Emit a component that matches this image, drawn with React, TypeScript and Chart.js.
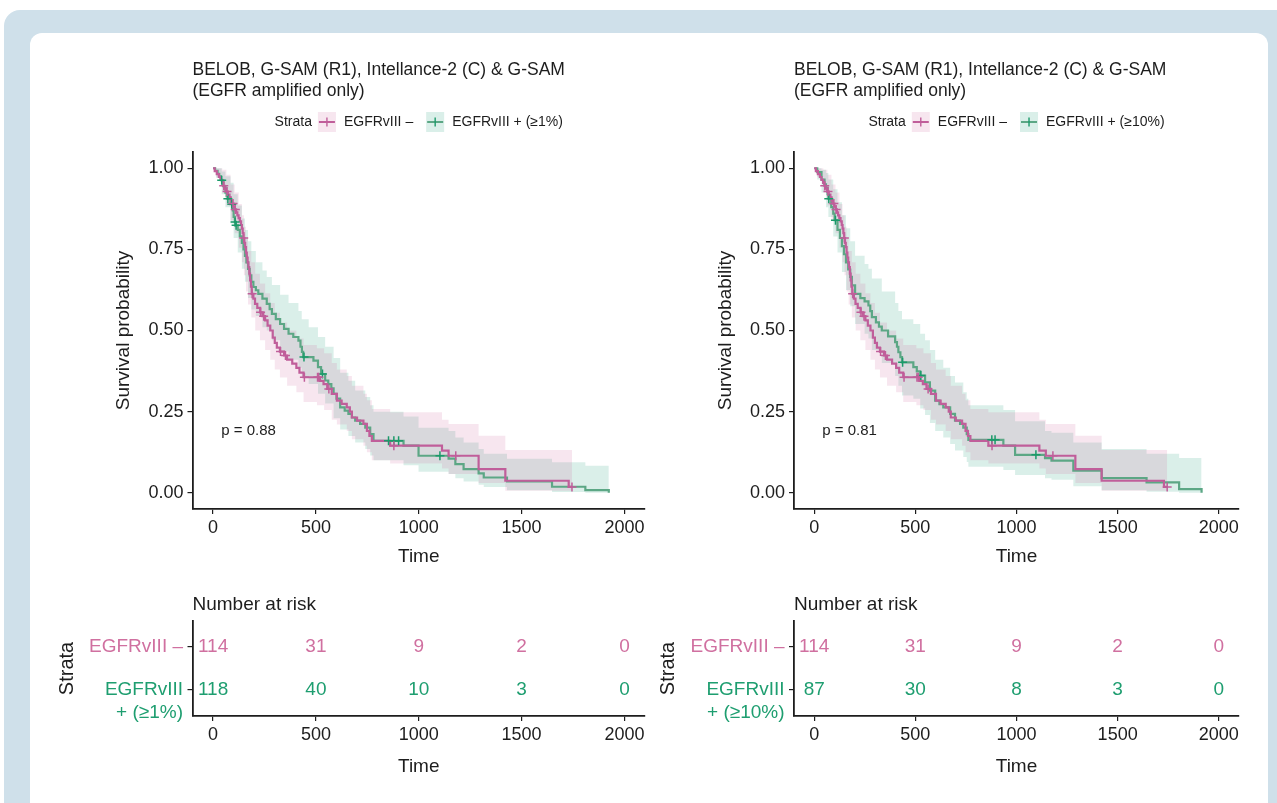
import React, { useEffect, useRef } from 'react';
import { Chart, registerables } from 'chart.js';

Chart.register(...registerables);

const W = 1277;
const H = 803;
const FONT = '"Liberation Sans", Arial, Helvetica, sans-serif';

// ---------- data ----------
const timeTicks = [0, 500, 1000, 1500, 2000];
const survTicks = [0, 0.25, 0.5, 0.75, 1];

const titleLine1 = 'BELOB, G-SAM (R1), Intellance-2 (C) & G-SAM';
const titleLine2 = '(EGFR amplified only)';
const negLabel = 'EGFRvIII –';
const posLabels = ['EGFRvIII + (≥1%)', 'EGFRvIII + (≥10%)'];
const posRowLabels = [['EGFRvIII', '+ (≥1%)'], ['EGFRvIII', '+ (≥10%)']];
const pValues = ['p = 0.88', 'p = 0.81'];

// EGFRvIII – (same group in both panels)
const negTime = [0,8,18,28,36,44,50,56,64,72,80,86,92,100,106,112,118,124,130,136,140,144,148,152,156,160,164,168,172,176,180,184,188,196,204,215,229,240,253,265,278,290,300,310,325,345,360,385,405,420,440,520,537,555,577,602,625,650,665,675,700,731,748,760,772,861,1113,1145,1291,1421,1729,1745];
const negSurv = [1,0.991,0.982,0.973,0.964,0.955,0.946,0.937,0.928,0.919,0.91,0.9,0.891,0.882,0.873,0.864,0.855,0.846,0.836,0.825,0.814,0.8,0.785,0.77,0.757,0.74,0.725,0.71,0.695,0.675,0.654,0.635,0.613,0.598,0.582,0.57,0.556,0.544,0.531,0.515,0.5,0.478,0.462,0.447,0.435,0.423,0.41,0.398,0.385,0.37,0.356,0.345,0.335,0.32,0.305,0.284,0.274,0.263,0.25,0.232,0.222,0.212,0.191,0.175,0.16,0.145,0.13,0.114,0.073,0.037,0.018,0.018];
const negCensor = [52,68,97,108,149,190,231,246,328,352,444,508,514,563,879,1180,1745];
const negBandTime = [0,15,45,65,85,105,125,140,150,160,170,186,205,228,253,278,300,325,360,405,440,505,540,577,602,650,675,731,748,772,861,1113,1145,1291,1421,1745];
const negBandLo = [1,0.973,0.93,0.885,0.84,0.8,0.755,0.71,0.67,0.62,0.58,0.54,0.5,0.47,0.44,0.41,0.38,0.355,0.33,0.31,0.28,0.27,0.255,0.225,0.21,0.19,0.165,0.145,0.125,0.1,0.09,0.075,0.058,0.03,0.006,0.006];
const negBandHi = [1,1,0.995,0.98,0.95,0.925,0.89,0.855,0.82,0.785,0.745,0.71,0.675,0.645,0.615,0.585,0.555,0.525,0.5,0.475,0.455,0.445,0.43,0.4,0.38,0.36,0.33,0.305,0.285,0.258,0.248,0.225,0.212,0.176,0.132,0.132];

// EGFRvIII + (>=1%)
const pos1Time = [0,10,22,30,38,50,60,66,70,85,96,100,106,110,120,130,140,148,155,162,170,178,186,196,208,220,240,261,275,286,305,326,345,367,390,415,425,432,438,488,510,525,545,560,575,586,600,618,640,658,675,691,715,740,764,780,926,999,1145,1178,1218,1291,1316,1429,1648,1810,1924];
const pos1Surv = [1,0.992,0.983,0.975,0.963,0.945,0.925,0.915,0.906,0.889,0.87,0.85,0.834,0.824,0.81,0.79,0.77,0.75,0.73,0.71,0.69,0.67,0.65,0.634,0.624,0.613,0.598,0.582,0.566,0.551,0.535,0.52,0.505,0.49,0.48,0.469,0.45,0.434,0.418,0.407,0.387,0.366,0.346,0.335,0.322,0.305,0.29,0.263,0.253,0.243,0.232,0.222,0.212,0.201,0.181,0.16,0.145,0.114,0.105,0.088,0.073,0.06,0.047,0.035,0.0185,0.008,0];
const pos1Censor = [42,72,91,107,112,442,532,853,879,902,1103];
const pos1BandTime = [0,15,42,60,85,100,120,140,155,170,186,208,240,261,286,326,367,415,431,465,510,545,586,618,658,691,740,764,780,926,999,1145,1178,1218,1291,1316,1429,1648,1810,1924];
const pos1BandLo = [1,0.97,0.92,0.88,0.83,0.785,0.74,0.69,0.65,0.6,0.565,0.545,0.51,0.5,0.47,0.435,0.41,0.385,0.355,0.335,0.305,0.275,0.23,0.195,0.175,0.155,0.135,0.115,0.1,0.085,0.065,0.058,0.045,0.035,0.025,0.018,0.008,0.002,0,0];
const pos1BandHi = [1,1,0.99,0.975,0.955,0.92,0.885,0.845,0.81,0.775,0.745,0.71,0.685,0.665,0.64,0.61,0.585,0.56,0.535,0.51,0.48,0.45,0.415,0.37,0.345,0.315,0.295,0.27,0.25,0.235,0.2,0.19,0.17,0.155,0.135,0.12,0.105,0.094,0.083,0.083];

// EGFRvIII + (>=10%)
const pos10Time = [0,15,36,51,58,66,70,84,94,101,115,127,137,147,157,168,178,186,202,228,249,268,277,285,305,320,334,365,400,409,416,426,434,490,507,524,548,572,598,619,638,672,696,721,737,754,762,935,993,1141,1173,1281,1421,1643,1804,1915];
const pos10Surv = [1,0.988,0.965,0.95,0.94,0.92,0.906,0.88,0.86,0.84,0.81,0.785,0.76,0.735,0.71,0.688,0.665,0.639,0.613,0.6,0.59,0.577,0.56,0.541,0.525,0.512,0.5,0.482,0.464,0.45,0.433,0.418,0.402,0.387,0.374,0.361,0.34,0.315,0.284,0.273,0.263,0.243,0.222,0.212,0.201,0.181,0.163,0.145,0.117,0.107,0.099,0.068,0.045,0.032,0.011,0];
const pos10Censor = [72,105,437,527,878,894,1096];
const pos10BandTime = [0,15,36,58,70,94,115,137,157,178,202,249,268,285,334,400,416,434,490,524,548,572,598,638,672,696,737,754,762,935,993,1141,1173,1281,1421,1643,1804,1915];
const pos10BandLo = [1,0.965,0.925,0.88,0.85,0.79,0.74,0.68,0.625,0.575,0.52,0.49,0.475,0.44,0.4,0.36,0.33,0.3,0.29,0.26,0.24,0.215,0.19,0.17,0.15,0.13,0.11,0.095,0.08,0.07,0.055,0.045,0.04,0.02,0.008,0.003,0,0];
const pos10BandHi = [1,1,0.995,0.985,0.965,0.935,0.895,0.855,0.815,0.775,0.73,0.705,0.69,0.66,0.62,0.585,0.56,0.535,0.52,0.49,0.47,0.44,0.41,0.385,0.36,0.34,0.31,0.29,0.27,0.255,0.22,0.19,0.185,0.155,0.135,0.12,0.107,0.107];

// Number at risk
const riskNeg1 = [114, 31, 9, 2, 0];
const riskPos1 = [118, 40, 10, 3, 0];
const riskNeg10 = [114, 31, 9, 2, 0];
const riskPos10 = [87, 30, 8, 3, 0];

// ---------- styling / layout ----------
const AX = '#1d1d1d';
const TXT = '#1d1d1d';
const negColor = '#C05E9A';
const negBand = 'rgba(204,102,153,0.16)';
const negText = '#D070A0';
const posColor = '#5CA785';
const posMark = '#1B9A6A';
const posBand = 'rgba(27,158,119,0.16)';
const posText = '#1E9E70';

const panelLayout = [
  { left: 192.5, right: 645 },
  { left: 794, right: 1239 },
];
const KM_TOP = 152;
const KM_BOTTOM = 509;
const RISK_TOP = 621;
const RISK_BOTTOM = 716;
const Y_AXIS_W = 60;
const X_AXIS_H = 40;
const P_COORD = { x: 40, y: 0.19 };

const panels = [
  {
    posTime: pos1Time, posSurv: pos1Surv, posCensor: pos1Censor,
    posBandTime: pos1BandTime, posBandLo: pos1BandLo, posBandHi: pos1BandHi,
    riskNeg: riskNeg1, riskPos: riskPos1,
  },
  {
    posTime: pos10Time, posSurv: pos10Surv, posCensor: pos10Censor,
    posBandTime: pos10BandTime, posBandLo: pos10BandLo, posBandHi: pos10BandHi,
    riskNeg: riskNeg10, riskPos: riskPos10,
  },
];

// ---------- helpers ----------
function pts(times: number[], vals: number[]) {
  return times.map((t, i) => ({ x: t, y: vals[i] }));
}
function stepAt(times: number[], vals: number[], t: number) {
  let v = vals[0];
  for (let i = 0; i < times.length; i++) if (times[i] <= t) v = vals[i];
  return v;
}
function censorPts(times: number[], vals: number[], cens: number[]) {
  return cens.map((t) => ({ x: t, y: stepAt(times, vals, t) }));
}

function axisCommon(size: number, pad: number) {
  return {
    grid: { drawOnChartArea: false, drawTicks: true, tickLength: 5, color: AX, lineWidth: 1.2 },
    border: { display: true, color: AX, width: 1.8 },
    ticks: { color: TXT, font: { family: FONT, size }, padding: pad, maxRotation: 0, autoSkip: false },
  };
}

function xScale() {
  const c: any = axisCommon(18, 3);
  return {
    type: 'linear',
    min: -100,
    max: 2100,
    afterBuildTicks: (s: any) => { s.ticks = timeTicks.map((v) => ({ value: v })); },
    afterFit: (s: any) => { s.height = X_AXIS_H; },
    ...c,
    ticks: { ...c.ticks, callback: (v: any) => String(v) },
  };
}

function drawKey(ctx: CanvasRenderingContext2D, x: number, cy: number, fill: string, line: string, mark: string) {
  const kw = 18, kh = 20;
  ctx.fillStyle = '#ffffff';
  ctx.fillRect(x, cy - kh / 2, kw, kh);
  ctx.fillStyle = fill;
  ctx.fillRect(x, cy - kh / 2, kw, kh);
  ctx.strokeStyle = line;
  ctx.lineWidth = 2;
  ctx.beginPath();
  ctx.moveTo(x + 1, cy);
  ctx.lineTo(x + kw - 1, cy);
  ctx.stroke();
  ctx.strokeStyle = mark;
  ctx.lineWidth = 1.4;
  ctx.beginPath();
  ctx.moveTo(x + kw / 2, cy - 4.5);
  ctx.lineTo(x + kw / 2, cy + 4.5);
  ctx.stroke();
}

function kmConfig(pi: number): any {
  const L = panelLayout[pi];
  const P = panels[pi];
  const clear = 'rgba(0,0,0,0)';
  const datasets: any[] = [
    {
      data: censorPts(negTime, negSurv, negCensor), showLine: false, pointStyle: 'cross',
      pointRadius: 4.5, pointBorderWidth: 1.5, pointBorderColor: negColor, borderColor: negColor, fill: false,
    },
    {
      data: censorPts(P.posTime, P.posSurv, P.posCensor), showLine: false, pointStyle: 'cross',
      pointRadius: 4.5, pointBorderWidth: 1.5, pointBorderColor: posMark, borderColor: posMark, fill: false,
    },
    { data: pts(negTime, negSurv), stepped: true, borderColor: negColor, borderWidth: 2.2, pointRadius: 0, fill: false },
    { data: pts(P.posTime, P.posSurv), stepped: true, borderColor: posColor, borderWidth: 2.2, pointRadius: 0, fill: false },
    { data: pts(negBandTime, negBandLo), stepped: true, borderColor: clear, borderWidth: 0, pointRadius: 0, fill: false },
    { data: pts(negBandTime, negBandHi), stepped: true, borderColor: clear, borderWidth: 0, pointRadius: 0, fill: 4, backgroundColor: negBand },
    { data: pts(P.posBandTime, P.posBandLo), stepped: true, borderColor: clear, borderWidth: 0, pointRadius: 0, fill: false },
    { data: pts(P.posBandTime, P.posBandHi), stepped: true, borderColor: clear, borderWidth: 0, pointRadius: 0, fill: 6, backgroundColor: posBand },
  ];
  const yc: any = axisCommon(18, 4);
  const textPlugin = {
    id: 'kmText' + pi,
    afterDraw(chart: any) {
      const ctx: CanvasRenderingContext2D = chart.ctx;
      const { left, right, top, bottom } = chart.chartArea;
      const cx = (left + right) / 2;
      ctx.save();
      ctx.fillStyle = TXT;
      ctx.textBaseline = 'middle';
      // title
      ctx.font = `17.5px ${FONT}`;
      ctx.textAlign = 'left';
      ctx.fillText(titleLine1, left, 70);
      ctx.fillText(titleLine2, left, 91);
      // legend
      ctx.font = `14px ${FONT}`;
      const wS = ctx.measureText('Strata').width;
      const w1 = ctx.measureText(negLabel).width;
      const w2 = ctx.measureText(posLabels[pi]).width;
      const kw = 18, g1 = 6, g2 = 8, g3 = 13;
      const total = wS + g1 + kw + g2 + w1 + g3 + kw + g2 + w2;
      let x = cx - total / 2;
      const ly = 122;
      ctx.fillStyle = TXT;
      ctx.fillText('Strata', x, ly);
      x += wS + g1;
      drawKey(ctx, x, ly, negBand, negColor, negColor);
      x += kw + g2;
      ctx.fillStyle = TXT;
      ctx.fillText(negLabel, x, ly);
      x += w1 + g3;
      drawKey(ctx, x, ly, posBand, posColor, posMark);
      x += kw + g2;
      ctx.fillStyle = TXT;
      ctx.fillText(posLabels[pi], x, ly);
      // axis titles
      ctx.font = `19px ${FONT}`;
      ctx.textAlign = 'center';
      ctx.fillText('Time', cx, 557);
      ctx.save();
      ctx.translate(left - 68.5, (top + bottom) / 2);
      ctx.rotate(-Math.PI / 2);
      ctx.fillText('Survival probability', 0, 0);
      ctx.restore();
      // p value
      ctx.font = `15px ${FONT}`;
      ctx.textAlign = 'left';
      const px = chart.scales.x.getPixelForValue(P_COORD.x);
      const py = chart.scales.y.getPixelForValue(P_COORD.y);
      ctx.fillText(pValues[pi], px, py);
      ctx.restore();
    },
  };
  return {
    type: 'line',
    data: { datasets },
    options: {
      responsive: false,
      animation: false,
      devicePixelRatio: 1,
      events: [],
      layout: {
        padding: { left: L.left - Y_AXIS_W, right: W - L.right, top: KM_TOP, bottom: H - KM_BOTTOM - X_AXIS_H },
      },
      plugins: {
        legend: { display: false },
        tooltip: { enabled: false },
        filler: { propagate: false, drawTime: 'beforeDatasetsDraw' },
      },
      scales: {
        x: xScale(),
        y: {
          type: 'linear',
          min: -0.05,
          max: 1.05,
          afterBuildTicks: (s: any) => { s.ticks = survTicks.map((v) => ({ value: v })); },
          afterFit: (s: any) => { s.width = Y_AXIS_W; },
          ...yc,
          ticks: { ...yc.ticks, callback: (v: any) => Number(v).toFixed(2) },
        },
      },
    },
    plugins: [textPlugin],
  };
}

function riskConfig(pi: number): any {
  const L = panelLayout[pi];
  const P = panels[pi];
  const datasets: any[] = [
    { data: timeTicks.map((t) => ({ x: t, y: 1 })), showLine: false, pointRadius: 0, borderColor: negText },
    { data: timeTicks.map((t) => ({ x: t, y: 2 })), showLine: false, pointRadius: 0, borderColor: posText },
  ];
  const values = [P.riskNeg, P.riskPos];
  const colors = [negText, posText];
  const yc: any = axisCommon(18, 4);
  const textPlugin = {
    id: 'riskText' + pi,
    afterDraw(chart: any) {
      const ctx: CanvasRenderingContext2D = chart.ctx;
      const { left, right } = chart.chartArea;
      const xs = chart.scales.x;
      const ys = chart.scales.y;
      ctx.save();
      ctx.textBaseline = 'middle';
      // numbers
      ctx.font = `19px ${FONT}`;
      ctx.textAlign = 'center';
      chart.data.datasets.forEach((ds: any, di: number) => {
        ctx.fillStyle = colors[di];
        ds.data.forEach((d: any, i: number) => {
          ctx.fillText(String(values[di][i]), xs.getPixelForValue(d.x), ys.getPixelForValue(d.y));
        });
      });
      // row labels
      ctx.textAlign = 'right';
      ctx.fillStyle = negText;
      ctx.fillText(negLabel, left - 9.5, ys.getPixelForValue(1));
      ctx.fillStyle = posText;
      const rl = posRowLabels[pi];
      const y2 = ys.getPixelForValue(2);
      ctx.fillText(rl[0], left - 9.5, y2);
      ctx.fillText(rl[1], left - 9.5, y2 + 23);
      // titles
      ctx.fillStyle = TXT;
      ctx.textAlign = 'left';
      ctx.fillText('Number at risk', left, 605);
      ctx.textAlign = 'center';
      ctx.fillText('Time', (left + right) / 2, 767);
      ctx.save();
      ctx.font = `20px ${FONT}`;
      ctx.translate(left - 125.5, (ys.getPixelForValue(1) + ys.getPixelForValue(2)) / 2);
      ctx.rotate(-Math.PI / 2);
      ctx.fillText('Strata', 0, 0);
      ctx.restore();
      ctx.restore();
    },
  };
  return {
    type: 'line',
    data: { datasets },
    options: {
      responsive: false,
      animation: false,
      devicePixelRatio: 1,
      events: [],
      layout: {
        padding: { left: L.left - Y_AXIS_W, right: W - L.right, top: RISK_TOP, bottom: H - RISK_BOTTOM - X_AXIS_H },
      },
      plugins: { legend: { display: false }, tooltip: { enabled: false } },
      scales: {
        x: xScale(),
        y: {
          type: 'linear',
          min: 0.4,
          max: 2.6,
          reverse: true,
          afterBuildTicks: (s: any) => { s.ticks = [1, 2].map((v) => ({ value: v })); },
          afterFit: (s: any) => { s.width = Y_AXIS_W; },
          ...yc,
          ticks: { ...yc.ticks, callback: () => '' },
        },
      },
    },
    plugins: [textPlugin],
  };
}

function ChartCanvas({ make }: { make: () => any }) {
  const ref = useRef<HTMLCanvasElement | null>(null);
  useEffect(() => {
    if (!ref.current) return;
    const chart = new Chart(ref.current, make());
    return () => chart.destroy();
  }, []);
  return (
    <canvas
      ref={ref}
      width={W}
      height={H}
      style={{ position: 'absolute', left: 0, top: 0, width: W, height: H }}
    />
  );
}

export default function App() {
  return (
    <div style={{ position: 'fixed', left: 0, top: 0, width: W, height: H, overflow: 'hidden', background: '#ffffff' }}>
      <div style={{ position: 'absolute', left: 4, top: 10, width: 1300, height: 900, background: '#CFE0EA', borderRadius: 16 }} />
      <div style={{ position: 'absolute', left: 30, top: 33, width: 1238, height: 900, background: '#ffffff', borderRadius: 12 }} />
      <ChartCanvas make={() => kmConfig(0)} />
      <ChartCanvas make={() => kmConfig(1)} />
      <ChartCanvas make={() => riskConfig(0)} />
      <ChartCanvas make={() => riskConfig(1)} />
    </div>
  );
}
